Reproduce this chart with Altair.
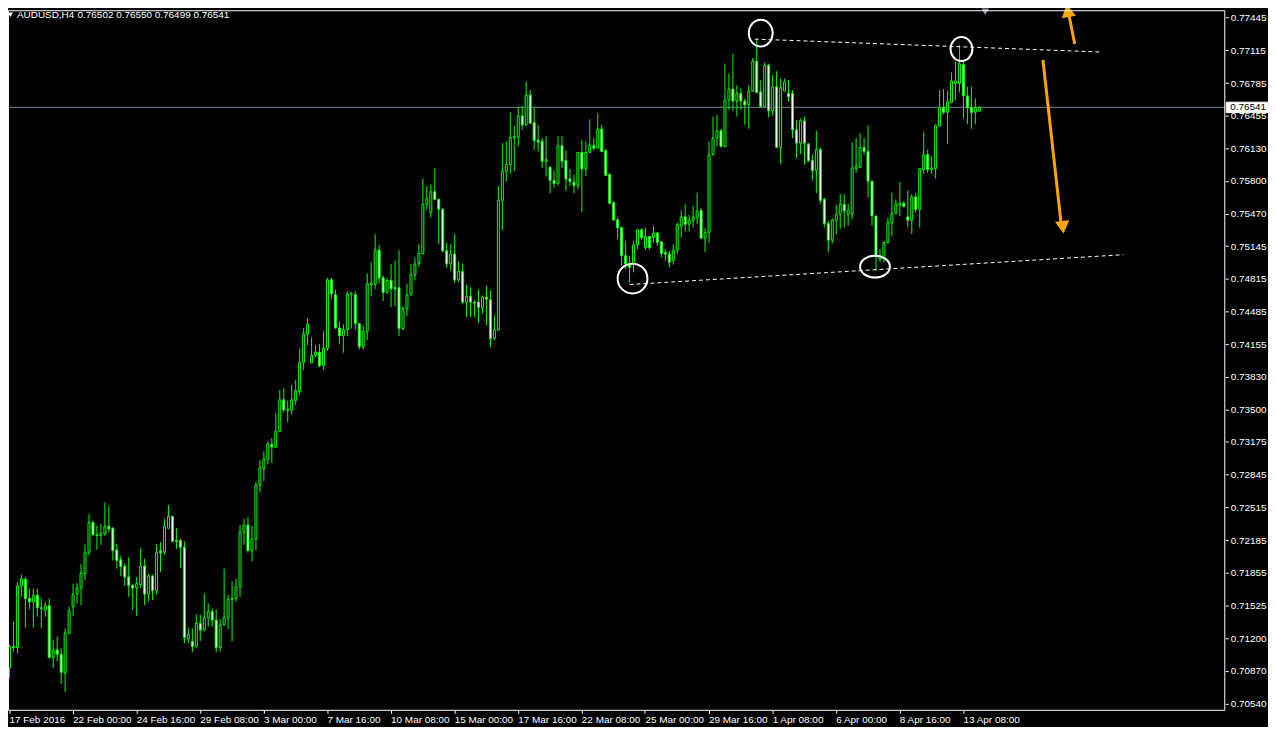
import altair as alt
import pandas as pd

# ---------------- data (AUDUSD, H4) ----------------
OPEN = [
    0.70898, 0.71105, 0.71105, 0.71725, 0.71791, 0.71598, 0.71565, 0.71631, 0.71505, 0.71481,
    0.71525, 0.71005, 0.71081, 0.71038, 0.70848, 0.71248, 0.71515, 0.71645, 0.71705, 0.71845,
    0.72065, 0.72365, 0.72238, 0.72231, 0.72248, 0.72325, 0.72305, 0.72088, 0.71988, 0.71925,
    0.71815, 0.71731, 0.71705, 0.71738, 0.71925, 0.71641, 0.71825, 0.71675, 0.72078, 0.72065,
    0.72305, 0.72425, 0.72181, 0.72181, 0.72115, 0.71191, 0.71165, 0.71121, 0.71348, 0.71281,
    0.71405, 0.71465, 0.71381, 0.71105, 0.71331, 0.71405, 0.71591, 0.71598, 0.71715, 0.72265,
    0.72338, 0.72081, 0.72198, 0.72738, 0.72905, 0.72998, 0.73148, 0.73121, 0.73281, 0.73598,
    0.73498, 0.73491, 0.73591, 0.73681, 0.73975, 0.74258, 0.73971, 0.74045, 0.74078, 0.73941,
    0.74115, 0.74805, 0.74655, 0.74321, 0.74241, 0.74305, 0.74665, 0.74655, 0.74365, 0.74131,
    0.74288, 0.74755, 0.74758, 0.75105, 0.74825, 0.74681, 0.74798, 0.74728, 0.74725, 0.74315,
    0.74515, 0.74655, 0.74855, 0.74971, 0.75071, 0.75565, 0.75481, 0.75691, 0.75615, 0.75515,
    0.75098, 0.74965, 0.75065, 0.74805, 0.74888, 0.74581, 0.74638, 0.74581, 0.74581, 0.74525,
    0.74631, 0.74605, 0.74215, 0.74298, 0.75608, 0.75898, 0.75965, 0.76231, 0.76241, 0.76455,
    0.76365, 0.76665, 0.76388, 0.76208, 0.76198, 0.75998, 0.75938, 0.75805, 0.75775, 0.76155,
    0.76005, 0.75821, 0.75788, 0.75755, 0.76088, 0.75921, 0.76088, 0.76155, 0.76131, 0.76321,
    0.76105, 0.75865, 0.75581, 0.75408, 0.75331, 0.75048, 0.74965, 0.74965, 0.75155, 0.75308,
    0.75131, 0.75241, 0.75231, 0.75275, 0.75188, 0.75078, 0.75065, 0.74998, 0.75105, 0.75348,
    0.75438, 0.75365, 0.75405, 0.75431, 0.75505, 0.75225, 0.75281, 0.76065, 0.76231, 0.76305,
    0.76148, 0.76615, 0.76725, 0.76605, 0.76681, 0.76605, 0.76565, 0.76705, 0.77005, 0.76698,
    0.76548, 0.76965, 0.76505, 0.76748, 0.76138, 0.76705, 0.76681, 0.76681, 0.76315, 0.76181,
    0.76405, 0.76171, 0.76005, 0.75905, 0.76115, 0.75615, 0.75371, 0.75205, 0.75405, 0.75465,
    0.75565, 0.75465, 0.75465, 0.75925, 0.75938, 0.76138, 0.76098, 0.75798, 0.75448, 0.75015,
    0.75015, 0.75181, 0.75381, 0.75471, 0.75555, 0.75575, 0.75438, 0.75405, 0.75638, 0.75515,
    0.75915, 0.76065, 0.75915, 0.75925, 0.76355, 0.76538, 0.76491, 0.76591, 0.76781, 0.76781,
    0.76971, 0.76658, 0.76538, 0.76491, 0.76502,
]
HIGH = [
    0.71131, 0.71365, 0.71765, 0.71838, 0.71815, 0.71698, 0.71698, 0.71698, 0.71598, 0.71565,
    0.71598, 0.71181, 0.71215, 0.71098, 0.71298, 0.71515, 0.71748, 0.71755, 0.71948, 0.72148,
    0.72448, 0.72381, 0.72331, 0.72348, 0.72565, 0.72531, 0.72315, 0.72148, 0.72031, 0.71948,
    0.72015, 0.71748, 0.71815, 0.72105, 0.71998, 0.71848, 0.71838, 0.72148, 0.72165, 0.72398,
    0.72538, 0.72431, 0.72305, 0.72198, 0.72175, 0.71305, 0.71298, 0.71438, 0.71438, 0.71648,
    0.71548, 0.71498, 0.71488, 0.71391, 0.71898, 0.71638, 0.71771, 0.71798, 0.72338, 0.72398,
    0.72415, 0.72331, 0.72771, 0.72991, 0.73081, 0.73181, 0.73215, 0.73465, 0.73698, 0.73715,
    0.73591, 0.73748, 0.73798, 0.74115, 0.74321, 0.74421, 0.74225, 0.74148, 0.74158, 0.74288,
    0.74825, 0.74825, 0.74705, 0.74388, 0.74358, 0.74691, 0.74681, 0.74688, 0.74371, 0.74348,
    0.74871, 0.74981, 0.75265, 0.75158, 0.74848, 0.74825, 0.74965, 0.74998, 0.75105, 0.74538,
    0.74765, 0.74965, 0.75031, 0.75165, 0.75825, 0.75748, 0.75765, 0.75925, 0.75625, 0.75531,
    0.75181, 0.75165, 0.75265, 0.74991, 0.74971, 0.74758, 0.74731, 0.74598, 0.74705, 0.74648,
    0.74748, 0.74698, 0.74448, 0.75748, 0.76181, 0.76198, 0.76488, 0.76355, 0.76548, 0.76555,
    0.76798, 0.76715, 0.76541, 0.76365, 0.76231, 0.76248, 0.75948, 0.75905, 0.76248, 0.76255,
    0.76108, 0.75921, 0.75865, 0.76088, 0.76215, 0.76198, 0.76421, 0.76231, 0.76481, 0.76365,
    0.76121, 0.75875, 0.75598, 0.75431, 0.75331, 0.75198, 0.75048, 0.75198, 0.75315, 0.75321,
    0.75331, 0.75241, 0.75348, 0.75288, 0.75191, 0.75115, 0.75098, 0.75165, 0.75381, 0.75505,
    0.75565, 0.75458, 0.75548, 0.75681, 0.75531, 0.75325, 0.76198, 0.76448, 0.76465, 0.76325,
    0.76981, 0.76881, 0.77081, 0.76765, 0.76731, 0.76631, 0.76765, 0.77038, 0.77225, 0.76815,
    0.76991, 0.76981, 0.76865, 0.76905, 0.76831, 0.76831, 0.76815, 0.76715, 0.76415, 0.76425,
    0.76448, 0.76181, 0.76065, 0.76305, 0.76131, 0.75631, 0.75398, 0.75425, 0.75558, 0.75671,
    0.75665, 0.75571, 0.76191, 0.76231, 0.76281, 0.76231, 0.76358, 0.75798, 0.75448, 0.75115,
    0.75198, 0.75431, 0.75681, 0.75615, 0.75791, 0.75598, 0.75705, 0.75665, 0.75681, 0.75931,
    0.76291, 0.76115, 0.76048, 0.76371, 0.76715, 0.76725, 0.76705, 0.76891, 0.76998, 0.77165,
    0.76998, 0.76748, 0.76748, 0.76631, 0.76550,
]
LOW = [
    0.70798, 0.71065, 0.71048, 0.71615, 0.71305, 0.71491, 0.71305, 0.71415, 0.71298, 0.71415,
    0.70998, 0.70898, 0.70965, 0.70738, 0.70658, 0.71241, 0.71425, 0.71548, 0.71531, 0.71781,
    0.72031, 0.72231, 0.72091, 0.72138, 0.72231, 0.72265, 0.71981, 0.71898, 0.71825, 0.71725,
    0.71615, 0.71481, 0.71421, 0.71705, 0.71531, 0.71571, 0.71581, 0.71638, 0.71865, 0.72038,
    0.72298, 0.72171, 0.72098, 0.71905, 0.71148, 0.71148, 0.71058, 0.71105, 0.71171, 0.71271,
    0.71315, 0.71315, 0.71058, 0.71065, 0.71331, 0.71291, 0.71165, 0.71565, 0.71615, 0.72138,
    0.72058, 0.71971, 0.72081, 0.72665, 0.72781, 0.72948, 0.72965, 0.73115, 0.73271, 0.73471,
    0.73371, 0.73448, 0.73548, 0.73648, 0.73898, 0.74148, 0.73971, 0.74025, 0.73925, 0.73898,
    0.74091, 0.74615, 0.74315, 0.74155, 0.74071, 0.74238, 0.74315, 0.74305, 0.74105, 0.74105,
    0.74198, 0.74638, 0.74715, 0.74765, 0.74591, 0.74665, 0.74531, 0.74538, 0.74238, 0.74298,
    0.74441, 0.74648, 0.74798, 0.74931, 0.75058, 0.75515, 0.75431, 0.75605, 0.75165, 0.75081,
    0.74925, 0.74898, 0.74771, 0.74781, 0.74558, 0.74431, 0.74431, 0.74431, 0.74371, 0.74465,
    0.74348, 0.74125, 0.74198, 0.74291, 0.75308, 0.75798, 0.75875, 0.75898, 0.76148, 0.76315,
    0.76355, 0.76371, 0.76115, 0.76098, 0.75931, 0.75848, 0.75675, 0.75731, 0.75755, 0.75931,
    0.75698, 0.75748, 0.75675, 0.75715, 0.75488, 0.75848, 0.76088, 0.76108, 0.76121, 0.76088,
    0.75848, 0.75565, 0.75398, 0.75215, 0.74948, 0.74915, 0.74775, 0.74881, 0.75115, 0.75208,
    0.75108, 0.75108, 0.75181, 0.75148, 0.75031, 0.74998, 0.74931, 0.74958, 0.75065, 0.75231,
    0.75291, 0.75291, 0.75331, 0.75365, 0.75215, 0.75081, 0.75181, 0.76058, 0.76148, 0.76138,
    0.76138, 0.76515, 0.76505, 0.76448, 0.76515, 0.76365, 0.76325, 0.76698, 0.76681, 0.76538,
    0.76538, 0.76438, 0.76458, 0.76131, 0.75971, 0.76705, 0.76598, 0.76231, 0.76031, 0.76071,
    0.75965, 0.75991, 0.75805, 0.75681, 0.75571, 0.75331, 0.75081, 0.75171, 0.75265, 0.75315,
    0.75331, 0.75348, 0.75415, 0.75881, 0.75931, 0.76065, 0.75638, 0.75348, 0.74898, 0.74981,
    0.74981, 0.75171, 0.75248, 0.75465, 0.75448, 0.75538, 0.75331, 0.75265, 0.75481, 0.75331,
    0.75871, 0.75881, 0.75871, 0.75825, 0.76348, 0.76471, 0.76171, 0.76581, 0.76615, 0.76691,
    0.76431, 0.76371, 0.76325, 0.76371, 0.76499,
]
CLOSE = [
    0.71115, 0.71115, 0.71725, 0.71798, 0.71598, 0.71565, 0.71631, 0.71505, 0.71498, 0.71525,
    0.71005, 0.71081, 0.71038, 0.70855, 0.71248, 0.71475, 0.71641, 0.71705, 0.71855, 0.72065,
    0.72365, 0.72241, 0.72231, 0.72258, 0.72325, 0.72298, 0.72081, 0.71981, 0.71921, 0.71815,
    0.71731, 0.71705, 0.71748, 0.71925, 0.71641, 0.71825, 0.71675, 0.72058, 0.72058, 0.72325,
    0.72425, 0.72175, 0.72171, 0.72115, 0.71205, 0.71238, 0.71115, 0.71348, 0.71281, 0.71405,
    0.71465, 0.71381, 0.71105, 0.71331, 0.71405, 0.71591, 0.71598, 0.71715, 0.72265, 0.72338,
    0.72081, 0.72198, 0.72738, 0.72915, 0.73005, 0.73155, 0.73125, 0.73281, 0.73598, 0.73498,
    0.73491, 0.73598, 0.73688, 0.73975, 0.74258, 0.74358, 0.74045, 0.74078, 0.73941, 0.74115,
    0.74805, 0.74665, 0.74321, 0.74241, 0.74305, 0.74665, 0.74671, 0.74365, 0.74131, 0.74288,
    0.74765, 0.74771, 0.75105, 0.74825, 0.74681, 0.74798, 0.74715, 0.74715, 0.74315, 0.74515,
    0.74655, 0.74855, 0.74965, 0.75071, 0.75565, 0.75625, 0.75691, 0.75615, 0.75515, 0.75098,
    0.74965, 0.75065, 0.74805, 0.74888, 0.74581, 0.74638, 0.74581, 0.74571, 0.74525, 0.74631,
    0.74611, 0.74215, 0.74305, 0.75605, 0.75898, 0.75965, 0.76238, 0.76248, 0.76455, 0.76365,
    0.76665, 0.76381, 0.76208, 0.76191, 0.75998, 0.76015, 0.75805, 0.75775, 0.76155, 0.75998,
    0.75821, 0.75795, 0.75755, 0.76088, 0.75921, 0.76088, 0.76158, 0.76131, 0.76321, 0.76098,
    0.75858, 0.75575, 0.75408, 0.75331, 0.75048, 0.74965, 0.74931, 0.75155, 0.75308, 0.75231,
    0.75241, 0.75131, 0.75275, 0.75181, 0.75071, 0.75065, 0.74981, 0.75105, 0.75358, 0.75438,
    0.75365, 0.75405, 0.75438, 0.75498, 0.75225, 0.75281, 0.76065, 0.76231, 0.76305, 0.76148,
    0.76615, 0.76725, 0.76605, 0.76681, 0.76605, 0.76565, 0.76705, 0.77005, 0.76691, 0.76548,
    0.76965, 0.76505, 0.76748, 0.76138, 0.76738, 0.76798, 0.76648, 0.76315, 0.76181, 0.76405,
    0.76181, 0.76005, 0.75905, 0.76115, 0.75605, 0.75371, 0.75205, 0.75405, 0.75465, 0.75565,
    0.75498, 0.75505, 0.75931, 0.75948, 0.76138, 0.76098, 0.75798, 0.75448, 0.75038, 0.75038,
    0.75181, 0.75381, 0.75471, 0.75565, 0.75575, 0.75541, 0.75405, 0.75638, 0.75515, 0.75921,
    0.76065, 0.75915, 0.75931, 0.76355, 0.76538, 0.76491, 0.76598, 0.76805, 0.76805, 0.76981,
    0.76658, 0.76538, 0.76491, 0.76538, 0.76541,
]

DATE_TICK_BARS = [0, 16, 32, 48, 64, 80, 96, 112, 128, 144, 160, 176, 192, 208, 224, 240]
DATE_LABELS = ["17 Feb 2016", "22 Feb 00:00", "24 Feb 16:00", "29 Feb 08:00", "3 Mar 00:00",
               "7 Mar 16:00", "10 Mar 08:00", "15 Mar 00:00", "17 Mar 16:00", "22 Mar 08:00",
               "25 Mar 00:00", "29 Mar 16:00", "1 Apr 08:00", "6 Apr 00:00", "8 Apr 16:00",
               "13 Apr 08:00"]
PRICE_TICKS = [0.77445, 0.77115, 0.76785, 0.76455, 0.76130, 0.75800, 0.75470, 0.75145,
               0.74815, 0.74485, 0.74155, 0.73830, 0.73500, 0.73175, 0.72845, 0.72515,
               0.72185, 0.71855, 0.71525, 0.71200, 0.70870, 0.70540]

SYMBOL = "AUDUSD,H4"
LAST_OHLC = "0.76502 0.76550 0.76499 0.76541"
CURRENT_PRICE = [0.76541]

# trend lines (bar index / price of both ends)
TREND_BAR_A = [187.5, 156.0]
TREND_PRICE_A = [0.77228, 0.74758]
TREND_BAR_B = [274.5, 280.25]
TREND_PRICE_B = [0.77098, 0.75058]

# circled swing points
CIRCLE_BAR = [189.0, 156.75, 217.75, 239.5]
CIRCLE_PRICE = [0.77288, 0.74818, 0.74938, 0.77128]

# orange arrows: shaft from -> to, head position
ARROW_FROM_BAR = [268.0, 260.0]
ARROW_FROM_PRICE = [0.77178, 0.77018]
ARROW_TO_BAR = [266.6, 264.6]
ARROW_TO_PRICE = [0.77460, 0.75360]
ARROW_HEAD_BAR = [266.25, 265.0]
ARROW_HEAD_PRICE = [0.77513, 0.75335]

SHIFT_MARK_BAR = [245.5]

# ---------------- styling / layout ----------------
W, H = 1225, 705
FONT = "Liberation Sans"
FS = 10
GREEN = "#00FF00"
ORANGE = "#FFA500"
BIDLINE = "#778899"
CIRCLE_W = [24, 30, 30, 22]
CIRCLE_H = [27, 30, 22, 24]
ARROW_ANGLE = [350, 354]
ARROW_SHAPE = ["triangle-up", "triangle-down"]

xscale = alt.Scale(domain=[-0.375, -0.375 + W / 4.0], nice=False, zero=False)
yscale = alt.Scale(domain=[0.70468, 0.70468 + H / 10000.0], nice=False, zero=False)

label_expr = "[" + ",".join("'%s'" % s for s in DATE_LABELS) + "][round(datum.value / 16)]"

xaxis = alt.Axis(values=DATE_TICK_BARS, labelExpr=label_expr, orient="bottom", title=None,
                 grid=False, domain=False, ticks=True, tickColor="white", tickSize=3,
                 tickWidth=1, labelColor="white", labelFont=FONT, labelFontSize=FS,
                 labelAlign="left", labelBaseline="top", labelPadding=1, translate=0,
                 labelFlush=False, labelOverlap=False, labelBound=False)
yaxis = alt.Axis(values=PRICE_TICKS, format=".5f", orient="right", title=None, grid=False,
                 domain=False, ticks=True, tickColor="white", tickSize=3, tickWidth=1,
                 labelColor="white", labelFont=FONT, labelFontSize=FS, labelAlign="left",
                 labelBaseline="middle", labelPadding=2, labelOverlap=False,
                 labelFlush=False, labelBound=False)


def X(field):
    return alt.X(field, type="quantitative", scale=xscale, axis=xaxis)


def Y(field):
    return alt.Y(field, type="quantitative", scale=yscale, axis=yaxis)


candles = pd.DataFrame({"idx": list(range(len(OPEN))), "open": OPEN, "high": HIGH,
                        "low": LOW, "close": CLOSE})

bid = pd.DataFrame({"price": CURRENT_PRICE, "label": ["%.5f" % p for p in CURRENT_PRICE]})

bid_line = alt.Chart(bid).mark_rule(color=BIDLINE, strokeWidth=1).encode(
    y=Y("price"), x=alt.value(0), x2=alt.value(W))

wicks = alt.Chart(candles).mark_rule(color=GREEN, strokeWidth=1).encode(
    x=X("idx"), y=Y("low"), y2="high")

bodies = alt.Chart(candles).transform_calculate(
    x0="datum.idx - 0.25", x1="datum.idx + 0.25",
    kind="datum.close >= datum.open ? 'bull' : 'bear'"
).mark_rect(stroke=GREEN, strokeWidth=1).encode(
    x=X("x0"), x2="x1:Q", y=Y("open"), y2="close:Q",
    fill=alt.Fill("kind:N", scale=alt.Scale(domain=["bull", "bear"], range=["black", "white"]),
                  legend=None))

trend = pd.DataFrame({"idx": TREND_BAR_A, "price": TREND_PRICE_A,
                      "idx2": TREND_BAR_B, "price2": TREND_PRICE_B})
trend_lines = alt.Chart(trend).mark_rule(color="white", strokeWidth=1, strokeDash=[4, 3]).encode(
    x=X("idx"), y=Y("price"), x2="idx2:Q", y2="price2:Q")

circ = pd.DataFrame({"idx": CIRCLE_BAR, "price": CIRCLE_PRICE})
circ["size"] = [w * w for w in CIRCLE_W]
circ["path"] = ["M-1,0A1,%.3f,0,1,1,1,0A1,%.3f,0,1,1,-1,0Z" % (h / w, h / w)
                for w, h in zip(CIRCLE_W, CIRCLE_H)]
circles = alt.Chart(circ).mark_point(filled=False, stroke="white", strokeWidth=2, opacity=1).encode(
    x=X("idx"), y=Y("price"),
    shape=alt.Shape("path:N", scale=None),
    size=alt.Size("size:Q", scale=None))

arr = pd.DataFrame({"idx": ARROW_FROM_BAR, "price": ARROW_FROM_PRICE,
                    "idx2": ARROW_TO_BAR, "price2": ARROW_TO_PRICE})
arrow_shafts = alt.Chart(arr).mark_rule(color=ORANGE, strokeWidth=3).encode(
    x=X("idx"), y=Y("price"), x2="idx2:Q", y2="price2:Q")

heads = pd.DataFrame({"idx": ARROW_HEAD_BAR, "price": ARROW_HEAD_PRICE,
                      "angle": ARROW_ANGLE, "shape": ARROW_SHAPE})
arrow_heads = alt.Chart(heads).mark_point(filled=True, color=ORANGE, size=210, opacity=1).encode(
    x=X("idx"), y=Y("price"),
    shape=alt.Shape("shape:N", scale=None),
    angle=alt.Angle("angle:Q", scale=None))

shift = pd.DataFrame({"idx": SHIFT_MARK_BAR})
shift_mark = alt.Chart(shift).mark_point(shape="triangle-down", filled=True, color="#8896A8",
                                         size=60, opacity=1).encode(
    x=X("idx"), y=alt.value(1.5))

one = pd.DataFrame({"a": [0]})
frame = alt.Chart(one).mark_rect(fillOpacity=0, stroke="white", strokeWidth=1).encode(
    x=alt.value(0.5), x2=alt.value(W - 0.5), y=alt.value(0.5), y2=alt.value(H - 0.5))

hdr = pd.DataFrame({"t": [SYMBOL], "v": [LAST_OHLC]})
header_tri = alt.Chart(one).mark_point(shape="triangle-down", filled=True, color="white",
                                       size=28, opacity=1).encode(
    x=alt.value(2.5), y=alt.value(4.5))
header_sym = alt.Chart(hdr).mark_text(color="white", font=FONT, fontSize=FS, align="left",
                                      baseline="middle").encode(
    text="t:N", x=alt.value(9), y=alt.value(5))
header_val = alt.Chart(hdr).mark_text(color="white", font=FONT, fontSize=FS, align="left",
                                      baseline="middle").encode(
    text="v:N", x=alt.value(70), y=alt.value(5))

price_box = alt.Chart(bid).transform_calculate(
    top="datum.price + 0.00052", bot="datum.price - 0.00053"
).mark_rect(fill="white", stroke="white").encode(
    y=Y("top"), y2="bot:Q", x=alt.value(W + 1), x2=alt.value(W + 43))
price_txt = alt.Chart(bid).mark_text(color="black", font=FONT, fontSize=FS, align="left",
                                     baseline="middle").encode(
    y=Y("price"), text="label:N", x=alt.value(W + 5))

chart = alt.layer(
    bid_line, wicks, bodies, trend_lines, circles, arrow_shafts, arrow_heads,
    shift_mark, frame, header_tri, header_sym, header_val, price_box, price_txt
).properties(
    width=W, height=H,
    autosize=alt.AutoSizeParams(type="none"),
    padding={"left": 0, "top": 0, "right": 43, "bottom": 14},
    background="black",
).configure_view(stroke=None)

chart.save("out.html", embed_options={"renderer": "svg", "actions": False})
